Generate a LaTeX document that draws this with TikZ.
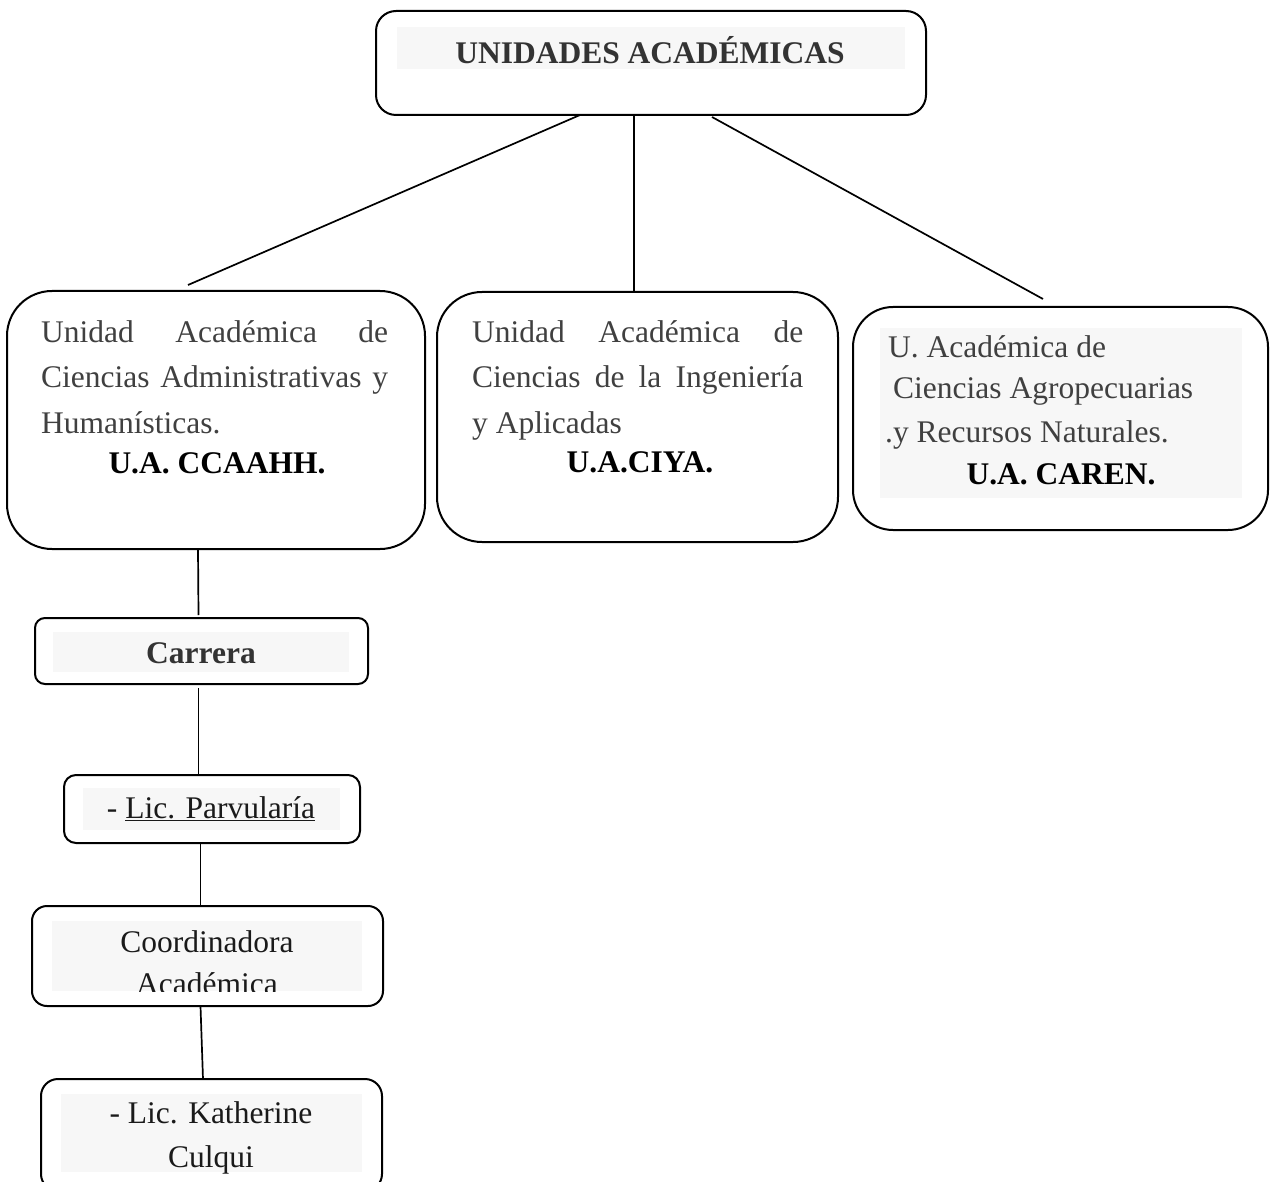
\documentclass[tikz,border=0pt]{standalone}
\usepackage{fontspec}
\setmainfont{Liberation Serif}
\definecolor{tg}{HTML}{404040}
\definecolor{tgd}{HTML}{333333}
\definecolor{tk}{HTML}{1A1A1A}
\definecolor{bgg}{HTML}{F7F7F7}
\begin{document}
\begin{tikzpicture}[x=1pt,y=-1pt,
  box/.style={draw=black, line width=2pt, anchor=north west, inner sep=0pt, outer sep=0pt},
  bgrect/.style={fill=bgg, draw=none},
  ln/.style={line width=1.7pt},
  t/.style={inner sep=0pt, font=\fontsize{31.5}{37}\selectfont, text=tg},
  tb/.style={inner sep=0pt, font=\fontsize{31.5}{37}\selectfont\bfseries, text=black},
]
\clip (0,0) rectangle (1272,1182);
\fill[white] (0,0) rectangle (1272,1182);

% boxes
\node[box, rounded corners=20pt, minimum width=550pt, minimum height=104pt] (top) at (376,11) {};
\node[box, rounded corners=45pt, minimum width=418pt, minimum height=258pt] (b1) at (7,291) {};
\node[box, rounded corners=45pt, minimum width=401pt, minimum height=250pt] (b2) at (437,292) {};
\node[box, rounded corners=40pt, minimum width=415pt, minimum height=223pt] (b3) at (853,307) {};
\node[box, rounded corners=10pt, minimum width=333pt, minimum height=66pt] (car) at (35,618) {};
\node[box, rounded corners=12pt, minimum width=296pt, minimum height=68pt] (parv) at (64,775) {};
\node[box, rounded corners=15pt, minimum width=351pt, minimum height=100pt] (coord) at (32,906) {};
\node[box, rounded corners=17pt, minimum width=341pt, minimum height=112pt] (kath) at (41,1079) {};

% grey text backgrounds
\fill[bgrect] (397,27) rectangle (905,69);
\fill[bgrect] (880,328) rectangle (1242,498);
\fill[bgrect] (53,632) rectangle (349,672);
\fill[bgrect] (83,788) rectangle (340,830);
\fill[bgrect] (52,921) rectangle (362,991);
\fill[bgrect] (61,1094) rectangle (362,1172);

% connectors
\draw[ln] ([xshift=-71pt]top.south) -- ([xshift=-28pt,yshift=6pt]b1.north);
\draw[ln] ([xshift=-17pt]top.south) -- ([xshift=-3.5pt]b2.north);
\draw[ln] ([xshift=61pt,yshift=-2pt]top.south) -- ([xshift=-17.5pt,yshift=8pt]b3.north);
\draw[ln] ([xshift=-18pt]b1.south) -- ([xshift=-3pt,yshift=3pt]car.north);
\draw[ln] ([xshift=-3pt,yshift=-4pt]car.south) -- ([xshift=-13.5pt]parv.north);
\draw[ln] ([xshift=-11.5pt]parv.south) -- ([xshift=-7pt]coord.north);
\draw[ln] ([xshift=-7pt]coord.south) -- ([xshift=-8.5pt]kath.north);

% texts
\node[tb, text=tgd, anchor=base] (ttl) at (650,64) {UNIDADES ACADÉMICAS};

\node[t, anchor=base west] (b1a) at (41,343) {\makebox[347pt][s]{Unidad Académica de}};
\node[t, anchor=base west] (b1b) at (41,388) {\makebox[347pt][s]{Ciencias Administrativas y}};
\node[t, anchor=base west] (b1c) at (41,433) {Humanísticas.};
\node[tb, anchor=base] (b1d) at (217,473) {U.A. CCAAHH.};

\node[t, anchor=base west] (b2a) at (472,343) {\makebox[331pt][s]{Unidad Académica de}};
\node[t, anchor=base west] (b2b) at (472,388) {\makebox[331pt][s]{Ciencias de la Ingeniería}};
\node[t, anchor=base west] (b2c) at (472,433) {y Aplicadas};
\node[tb, anchor=base] (b2d) at (640,472) {U.A.CIYA.};

\node[t, anchor=base west] (b3a) at (888,357) {U. Académica de};
\node[t, anchor=base west] (b3b) at (893,399) {Ciencias Agropecuarias};
\node[t, anchor=base west] (b3c) at (885,442) {.y Recursos Naturales.};
\node[tb, anchor=base] (b3d) at (1061,484) {U.A. CAREN.};

\node[tb, text=tgd, anchor=base] (cart) at (201,663) {Carrera};
\node[t, text=tk, anchor=base] (parvt) at (211,818) {- \underline{Lic. Parvularía}};

\begin{scope}
\clip (52,921) rectangle (362,991);
\node[t, text=tk, anchor=base] (coa) at (207,952) {Coordinadora};
\node[t, text=tk, anchor=base] (cob) at (207,994) {Académica};
\end{scope}

\node[t, text=tk, anchor=base] (ka) at (211,1123) {- Lic. Katherine};
\node[t, text=tk, anchor=base] (kb) at (211,1167) {Culqui};
\end{tikzpicture}
\end{document}
